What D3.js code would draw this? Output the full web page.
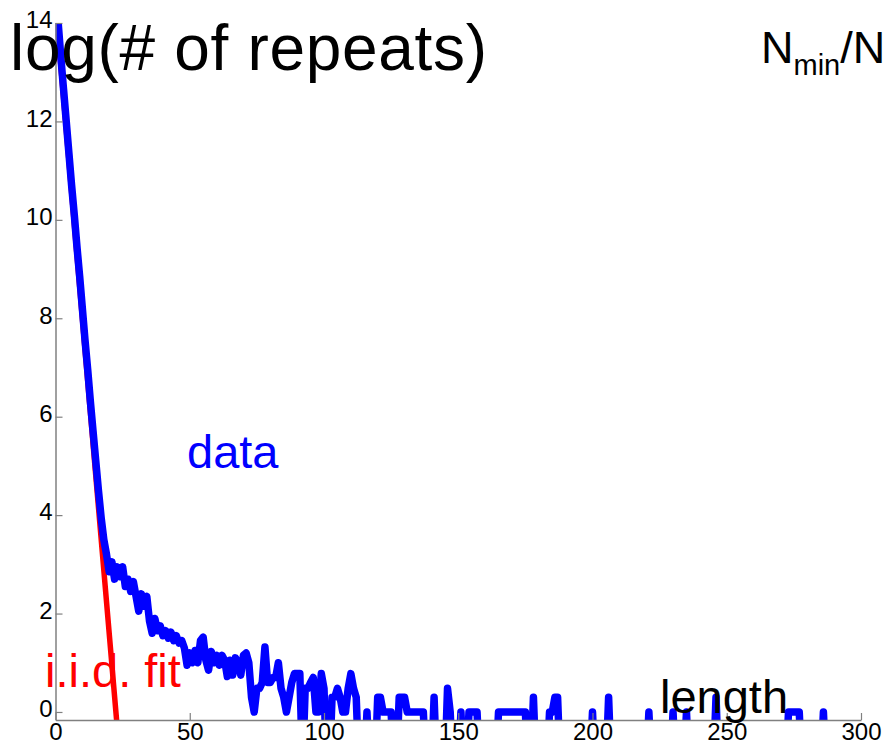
<!DOCTYPE html>
<html>
<head>
<meta charset="utf-8">
<script src="https://cdn.jsdelivr.net/npm/d3@7"></script>
<style>
  html, body { margin: 0; padding: 0; background: #fff; }
  svg { display: block; font-family: "Liberation Sans", Arial, Helvetica, sans-serif; }
</style>
</head>
<body>
<svg id="chart" width="889" height="747"></svg>
<script>
// log(# of repeats) for lengths 1..137, null = no repeat of that length
const denseLog = [
  14.0, 13.3, 12.65, 12.0, 11.35, 10.7, 10.1, 9.45, 8.85, 8.2,
  7.55, 6.95, 6.3, 5.7, 5.1, 4.5, 3.95, 3.5, 3.2, 2.85,
  3.05, 2.7, 2.95, 2.75, 2.95, 2.55, 2.7, 2.45, 2.65, 2.35,
  2.05, 2.4, 2.15, 2.35, 1.85, 1.6, 1.9, 1.65, 1.75, 1.55,
  1.65, 1.5, 1.62, 1.45, 1.55, 1.4, 1.45, 1.3, 0.95, 1.2,
  1.0, 1.25, 1.0, 1.45, 1.52, 1.05, 0.85, 1.23, 1.0, 1.15,
  0.95, 1.15, 1.05, 0.72, 1.05, 0.75, 1.1, 1.0, 0.75, 1.15,
  1.2, 1.0, 0.3, 0, 0.48, 0.48, 0.6, 1.32, 0.6, 0.6,
  0.7, 0.7, 1.0, 0.48, 0.3, 0, 0.3, 0.6, 0.78, 0.78,
  0.78, null, 0.48, 0.48, 0.6, 0.7, 0, 0, 0.78, 0.48,
  null, null, 0.3, 0.3, 0.48, 0.3, 0, 0, 0.48, 0.78,
  0.48, 0.3, null, null, null, 0, null, null, null, 0.3,
  0.3, 0, 0, 0, 0, null, null, 0.3, 0.3, 0.3,
  0, 0, 0, 0, 0, 0, 0
];

// sparse tail: lengths that still occur
const tailLengths = [141, 146, 147, 151, 154, 155, 156, 157,
  165, 166, 167, 168, 169, 170, 171, 172, 173, 174, 175, 178,
  184, 185, 186, 187, 200, 206, 221, 230, 235, 246,
  273, 274, 275, 276, 277, 286];
const tailLog = [0.3, 0.48, 0, 0, 0, 0, 0, 0,
  0, 0, 0, 0, 0, 0, 0, 0, 0, 0, 0, 0.3,
  0, 0, 0.3, 0.3, 0, 0.3, 0, 0, 0, 0.3,
  0, 0, 0, 0, 0, 0];

const maxLength = 290;

// i.i.d. fit, straight line end points
const fitLengths = [1, 24];
const fitLog = [13.76, -0.96];

const xTicks = [0, 50, 100, 150, 200, 250, 300];
const yTicks = [0, 2, 4, 6, 8, 10, 12, 14];

let svg = d3.select('#chart');

let x = d3.scaleLinear().domain([0, 300]).range([55.5, 861]);
let y = d3.scaleLinear().domain([-0.163, 14]).range([720, 23]);

// build series, empty lengths fall below the axis (log 0)
let series = d3.range(1, maxLength + 1).map(len => ({ len: len, v: null }));
denseLog.forEach((v, i) => { series[i].v = v; });
tailLengths.forEach((len, i) => { series[len - 1].v = tailLog[i]; });

let belowAxis = y.domain()[0] - 1;

svg.append('clipPath')
    .attr('id', 'plot-clip')
    .append('rect')
    .attr('x', x(0))
    .attr('y', y(14))
    .attr('width', x(300) - x(0) + 10)
    .attr('height', y.range()[0] - y(14));

let plot = svg.append('g').attr('clip-path', 'url(#plot-clip)');

let fitLine = d3.line()
    .x(d => x(d[0]))
    .y(d => y(d[1]));

plot.append('path')
    .datum(fitLengths.map((l, i) => [l, fitLog[i]]))
    .attr('d', fitLine)
    .attr('fill', 'none')
    .attr('stroke', '#ff0000')
    .attr('stroke-width', 5.5)
    .attr('stroke-linecap', 'round');

let dataLine = d3.line()
    .x(d => x(d.len))
    .y(d => y(d.v === null ? belowAxis : d.v));

plot.append('path')
    .datum(series)
    .attr('d', dataLine)
    .attr('fill', 'none')
    .attr('stroke', '#0000ff')
    .attr('stroke-width', 7.5)
    .attr('stroke-linejoin', 'round')
    .attr('stroke-linecap', 'round');

// axes, ticks point inwards
let xAxis = svg.append('g')
    .attr('transform', `translate(0, ${y.range()[0]})`)
    .call(d3.axisBottom(x).tickValues(xTicks).tickSizeInner(-7).tickSizeOuter(0).tickPadding(3));

let yAxis = svg.append('g')
    .attr('transform', `translate(${x(0)}, 0)`)
    .call(d3.axisLeft(y).tickValues(yTicks).tickSizeInner(-7).tickSizeOuter(0).tickPadding(3));

[xAxis, yAxis].forEach(g => {
    g.attr('font-family', null).attr('font-size', null);
    g.select('.domain').attr('stroke', '#808080').attr('stroke-width', 1.5);
    g.selectAll('.tick line').attr('stroke', '#808080').attr('stroke-width', 1.2);
    g.selectAll('.tick text').attr('fill', '#000').style('font-size', '24px');
});
yAxis.selectAll('.tick text').attr('dy', '0.2em');

// labels
svg.append('text')
    .attr('x', 10)
    .attr('y', 70)
    .style('font-size', '64px')
    .attr('fill', '#000')
    .attr('textLength', 477)
    .attr('lengthAdjust', 'spacing')
    .text('log(# of repeats)');

let nLabel = svg.append('text')
    .attr('x', 761)
    .attr('y', 63)
    .style('font-size', '45px')
    .attr('fill', '#000');
nLabel.append('tspan').text('N');
nLabel.append('tspan').attr('dy', 12).style('font-size', '29px').text('min');
nLabel.append('tspan').attr('dy', -12).text('/N');

svg.append('text')
    .attr('x', 187)
    .attr('y', 468)
    .style('font-size', '47px')
    .attr('fill', '#0000ff')
    .text('data');

svg.append('text')
    .attr('x', 45)
    .attr('y', 687)
    .style('font-size', '47px')
    .attr('fill', '#ff0000')
    .text('i.i.d. fit');

svg.append('text')
    .attr('x', 660)
    .attr('y', 713)
    .style('font-size', '47px')
    .attr('fill', '#000')
    .text('length');
</script>
</body>
</html>
